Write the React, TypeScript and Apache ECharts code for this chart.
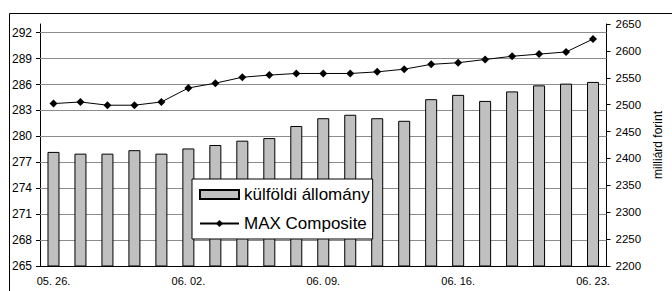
import React, { useEffect, useRef } from "react";
import * as echarts from "echarts";

const categories = [
  "05. 26.", "05. 27.", "05. 28.", "05. 29.", "05. 30.",
  "06. 02.", "06. 03.", "06. 04.", "06. 05.", "06. 06.",
  "06. 09.", "06. 10.", "06. 11.", "06. 12.", "06. 13.",
  "06. 16.", "06. 17.", "06. 18.", "06. 19.", "06. 20.",
  "06. 23.",
];

const kulfoldiAllomany = [
  278.2, 278.0, 278.0, 278.4, 278.0,
  278.6, 279.0, 279.5, 279.8, 281.2,
  282.1, 282.5, 282.1, 281.8, 284.3,
  284.8, 284.1, 285.2, 285.9, 286.1,
  286.3,
];

const maxComposite = [
  2502, 2505, 2499, 2499, 2505,
  2531, 2540, 2551, 2555, 2558,
  2558, 2558, 2561, 2566, 2575,
  2578, 2584, 2590, 2594, 2598,
  2622,
];

const leftGridValues = [268, 271, 274, 277, 280, 283, 286, 289, 292];

const FONT = "'Liberation Sans', Arial, sans-serif";

export default function App() {
  const ref = useRef<HTMLDivElement>(null);

  useEffect(() => {
    if (!ref.current) return;
    const chart = echarts.init(ref.current, null, { renderer: "svg" });
    chart.setOption({
      animation: false,
      backgroundColor: "#ffffff",
      textStyle: { fontFamily: FONT, color: "#000" },
      graphic: [
        {
          type: "rect",
          shape: { x: 9.5, y: 13.5, width: 700, height: 320 },
          style: { fill: "none", stroke: "#000", lineWidth: 1 },
          silent: true,
          z: 0,
        },
      ],
      grid: { left: 40, right: 55, top: 24, bottom: 25, containLabel: false },
      legend: {
        orient: "vertical",
        left: 192,
        top: 179,
        padding: [7, 3, 7, 7],
        itemGap: 12,
        itemWidth: 39,
        itemHeight: 9,
        backgroundColor: "#ffffff",
        borderColor: "#000",
        borderWidth: 1,
        borderRadius: 0,
        textStyle: { fontFamily: FONT, fontSize: 17, color: "#000", lineHeight: 17 },
        data: [
          { name: "külföldi állomány", icon: "rect" },
          { name: "MAX Composite" },
        ],
      },
      xAxis: {
        type: "category",
        data: categories,
        boundaryGap: true,
        axisLine: { show: true, lineStyle: { color: "#000", width: 1 } },
        axisTick: { show: false },
        axisLabel: {
          interval: 4,
          fontFamily: FONT,
          fontSize: 11,
          color: "#000",
          margin: 9,
        },
        splitLine: { show: false },
      },
      yAxis: [
        {
          type: "value",
          min: 265,
          max: 293,
          interval: 3,
          position: "left",
          axisLine: { show: true, lineStyle: { color: "#000", width: 1 } },
          axisTick: { show: true, length: 4, lineStyle: { color: "#000" } },
          axisLabel: {
            fontFamily: FONT,
            fontSize: 12,
            color: "#000",
            margin: 8,
            showMaxLabel: false,
            formatter: (v: number) => (v > 292 ? "" : String(v)),
          },
          splitLine: { show: false },
        },
        {
          type: "value",
          min: 2200,
          max: 2650,
          interval: 50,
          position: "right",
          name: "milliárd forint",
          nameLocation: "middle",
          nameRotate: 90,
          nameGap: 44,
          nameTextStyle: { fontFamily: FONT, fontSize: 12, color: "#000" },
          axisLine: { show: true, lineStyle: { color: "#000", width: 1 } },
          axisTick: { show: true, length: 4, lineStyle: { color: "#000" } },
          axisLabel: {
            fontFamily: FONT,
            fontSize: 11.5,
            color: "#000",
            margin: 9,
            formatter: (v: number) => String(v),
          },
          splitLine: { show: false },
        },
      ],
      series: [
        {
          name: "külföldi állomány",
          type: "bar",
          yAxisIndex: 0,
          data: kulfoldiAllomany,
          barWidth: 12,
          itemStyle: { color: "#C0C0C0", borderColor: "#000", borderWidth: 1 },
          z: 2,
          markLine: {
            silent: true,
            symbol: ["none", "none"],
            z: 1,
            label: { show: false },
            lineStyle: { color: "#8c8c8c", type: "solid", width: 1 },
            emphasis: { disabled: true },
            data: leftGridValues.map((v) => ({ yAxis: v })),
          },
        },
        {
          name: "MAX Composite",
          type: "line",
          yAxisIndex: 1,
          data: maxComposite,
          symbol: "diamond",
          symbolSize: 8,
          lineStyle: { color: "#000", width: 1 },
          itemStyle: { color: "#000" },
          z: 4,
        },
      ],
    });
    return () => chart.dispose();
  }, []);

  return (
    <div
      ref={ref}
      style={{ position: "fixed", left: 0, top: 0, width: 672, height: 291 }}
    />
  );
}
